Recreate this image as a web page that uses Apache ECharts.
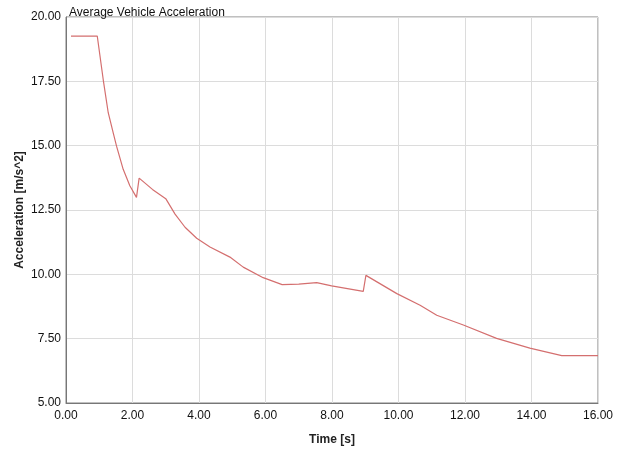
<!DOCTYPE html>
<html>
<head>
<meta charset="utf-8">
<script src="https://cdn.jsdelivr.net/npm/echarts@6/dist/echarts.min.js"></script>
<style>html,body{margin:0;padding:0;background:#fff}#c{width:627px;height:451px}</style>
</head>
<body>
<div id="c"></div>
<script>
const chartTitle = "Average Vehicle Acceleration";
const xName = "Time [s]";
const yName = "Acceleration [m/s^2]";
const timeValues = [0.15, 0.94, 1.12, 1.27, 1.42, 1.52, 1.72, 1.92, 2.12, 2.2, 2.6, 3.0, 3.28, 3.58, 3.93, 4.33, 4.93, 5.33, 5.93, 6.5, 7.0, 7.54, 7.99, 8.94, 9.02, 9.95, 10.65, 11.15, 11.95, 12.95, 13.95, 14.91, 16.0];
const accelValues = [19.26, 19.26, 17.56, 16.28, 15.5, 14.98, 14.08, 13.44, 12.99, 13.74, 13.3, 12.94, 12.34, 11.83, 11.4, 11.06, 10.67, 10.28, 9.87, 9.6, 9.62, 9.68, 9.55, 9.34, 9.96, 9.25, 8.8, 8.41, 8.03, 7.51, 7.13, 6.84, 6.84];

const data = timeValues.map((t, i) => [t, accelValues[i]]);
const chart = echarts.init(document.getElementById('c'));
const font = 'Liberation Sans, Arial, sans-serif';
chart.setOption({
  animation: false,
  title: {
    text: chartTitle, left: 64, top: 2,
    textStyle: { fontSize: 12, fontWeight: 'normal', color: '#111', fontFamily: font }
  },
  grid: { left: 66, top: 17, right: 29, bottom: 46, show: true, borderColor: '#808080', borderWidth: 1 },
  xAxis: {
    type: 'value', min: 0, max: 16, interval: 2,
    name: xName, nameLocation: 'middle', nameGap: 31, nameMoveOverlap: false,
    nameTextStyle: { fontSize: 12, fontWeight: 'bold', color: '#222', fontFamily: font },
    axisLine: { show: true, lineStyle: { color: '#777' } },
    axisTick: { show: false },
    axisLabel: { formatter: v => v.toFixed(2), fontSize: 12, fontWeight: 'normal', color: '#111', fontFamily: font, margin: 7 },
    splitLine: { show: true, lineStyle: { color: '#dcdcdc' } }
  },
  yAxis: {
    type: 'value', min: 5, max: 20, interval: 2.5,
    name: yName, nameLocation: 'middle', nameGap: 40, nameMoveOverlap: false,
    nameTextStyle: { fontSize: 12, fontWeight: 'bold', color: '#222', fontFamily: font },
    axisLine: { show: true, lineStyle: { color: '#777' } },
    axisTick: { show: false },
    axisLabel: { formatter: v => v.toFixed(2), fontSize: 12, fontWeight: 'normal', color: '#111', fontFamily: font, margin: 5 },
    splitLine: { show: true, lineStyle: { color: '#dcdcdc' } }
  },
  series: [{
    type: 'line', data: data, showSymbol: false, symbol: 'none',
    lineStyle: { color: '#d46f6f', width: 1.2 }
  }]
});
</script>
</body>
</html>
